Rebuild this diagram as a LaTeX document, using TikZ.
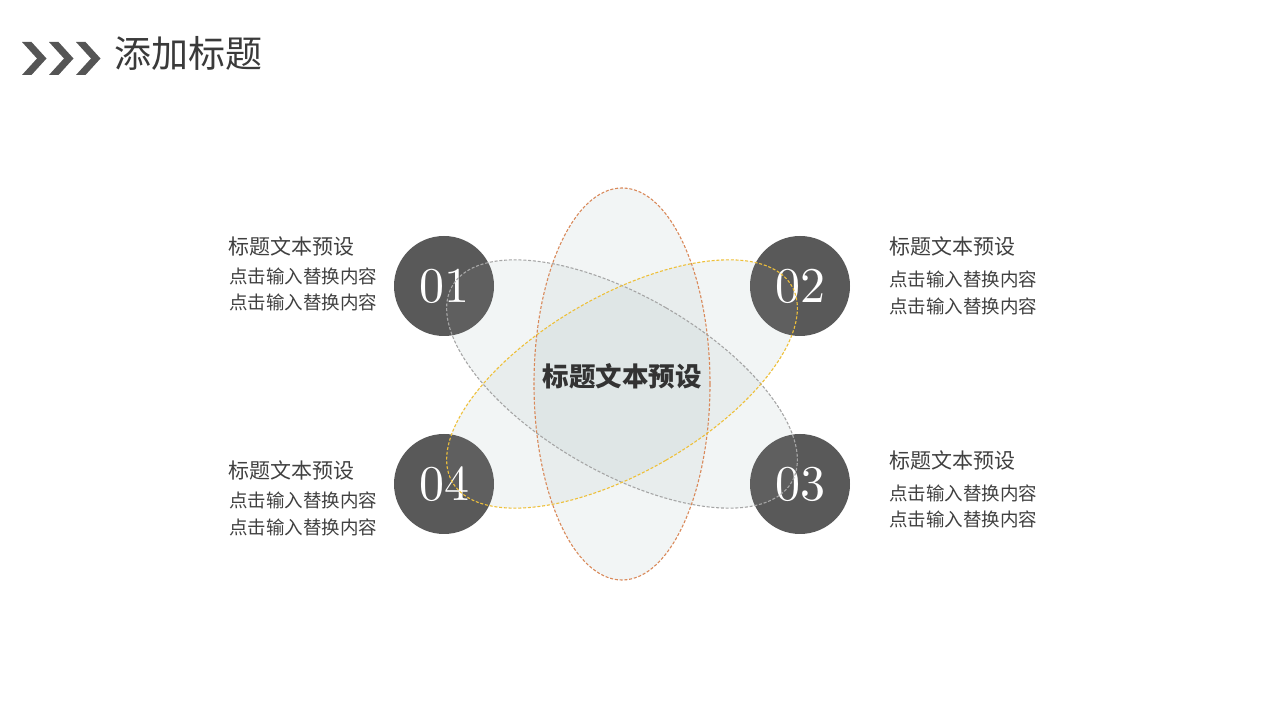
\documentclass[tikz,border=0pt]{standalone}
\usepackage{fontspec}
\newfontfamily\cjk{Noto Sans CJK SC}
\newfontfamily\numfont{lmroman10-regular.otf}
\definecolor{circ}{HTML}{595959}
\definecolor{txt}{HTML}{404040}
\definecolor{orng}{HTML}{D9895A}
\definecolor{gry}{HTML}{A6A6A6}
\definecolor{ylw}{HTML}{EEC03A}
\definecolor{efill}{RGB}{190,205,205}
\tikzset{
  x=1pt,y=1pt,
  numcirc/.style={circle,fill=circ,minimum size=100pt,inner sep=0pt},
  numtxt/.style={text=white,font=\numfont\fontsize{50}{50}\selectfont,inner sep=0pt},
  petalfill/.style={fill=efill,fill opacity=0.2,draw=none},
  petalline/.style={line width=1.1pt,dash pattern=on 3pt off 1.8pt},
  veil/.style={fill=white,fill opacity=0.04,draw=none},
  head/.style={anchor=west,inner sep=0pt,text=txt,font=\cjk\fontsize{21}{25}\selectfont},
  body/.style={anchor=west,inner sep=0pt,text=txt,font=\cjk\fontsize{18.5}{22}\selectfont},
  chev/.style={fill=circ!95!black}
}
\begin{document}
\begin{tikzpicture}
\useasboundingbox (0,0) rectangle (1280,720);
% chevrons
\foreach \cx in {22,49,76}{
  \fill[chev] (\cx,678) -- ++(9.5,0) -- ++(15,-16.5) -- ++(-15,-16.5) -- ++(-9.5,0) -- ++(15,16.5) -- cycle;
}
\node[anchor=west,inner sep=0pt,text=txt!90!black,font=\cjk\fontsize{37}{40}\selectfont] (title) at (114,667) {添加标题};
\coordinate (ctr) at (622,336);
% ellipse fills
\fill[petalfill] (ctr) ellipse [x radius=88, y radius=196];
\fill[petalfill,rotate around={60:(ctr)}] (ctr) ellipse [x radius=88, y radius=196];
\fill[petalfill,rotate around={-60:(ctr)}] (ctr) ellipse [x radius=88, y radius=196];
% circles
\node[numcirc] (c1) at (444,434) {};
\node[numcirc] (c2) at (800,434) {};
\node[numcirc] (c3) at (800,236) {};
\node[numcirc] (c4) at (444,236) {};
% faint veil of ellipses over circles
\begin{scope}
\clip (444,434) circle (50) (800,434) circle (50) (800,236) circle (50) (444,236) circle (50);
\fill[veil] (ctr) ellipse [x radius=88, y radius=196];
\fill[veil,rotate around={60:(ctr)}] (ctr) ellipse [x radius=88, y radius=196];
\fill[veil,rotate around={-60:(ctr)}] (ctr) ellipse [x radius=88, y radius=196];
\end{scope}
\node[numtxt] (n1) at (c1) {01};
\node[numtxt] (n2) at (c2) {02};
\node[numtxt] (n3) at (c3) {03};
\node[numtxt] (n4) at (c4) {04};
% ellipse outlines
\draw[petalline,draw=orng] (ctr) ellipse [x radius=88, y radius=196];
\draw[petalline,draw=gry,rotate around={60:(ctr)}] (ctr) ellipse [x radius=88, y radius=196];
\draw[petalline,draw=ylw,rotate around={-60:(ctr)}] (ctr) ellipse [x radius=88, y radius=196];
\node[text=txt!80!black,font=\cjk\bfseries\fontsize{26.5}{30}\selectfont,inner sep=0pt] (center) at (622,344) {标题文本预设};
% labels
\node[head] (h1) at (228,474) {标题文本预设};
\node[body] (b1a) at (229,444) {点击输入替换内容};
\node[body] (b1b) at (229,418) {点击输入替换内容};
\node[head] (h2) at (889,474) {标题文本预设};
\node[body] (b2a) at (889,441) {点击输入替换内容};
\node[body] (b2b) at (889,414) {点击输入替换内容};
\node[head] (h3) at (889,260) {标题文本预设};
\node[body] (b3a) at (889,227) {点击输入替换内容};
\node[body] (b3b) at (889,201) {点击输入替换内容};
\node[head] (h4) at (228,250) {标题文本预设};
\node[body] (b4a) at (229,220) {点击输入替换内容};
\node[body] (b4b) at (229,193) {点击输入替换内容};
\end{tikzpicture}
\end{document}
